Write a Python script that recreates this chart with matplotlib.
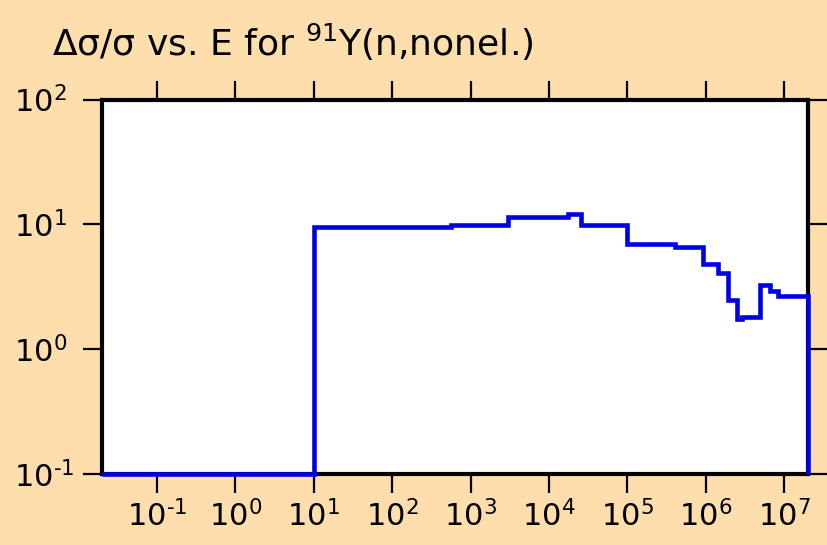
import matplotlib
matplotlib.use('Agg')
import matplotlib.pyplot as plt
from matplotlib.ticker import FixedLocator, NullLocator, FuncFormatter
import numpy as np

# 字体设置
plt.rcParams['font.family'] = ['DejaVu Sans']
plt.rcParams['mathtext.fontset'] = 'dejavusans'
plt.rcParams['axes.unicode_minus'] = False

# 能群边界 (eV) 与相对不确定度
energy_edges = [0.02, 10, 100, 560, 3000, 17400, 25700, 1e5, 4.06e5, 9.2e5,
                1.42e6, 1.9e6, 2.5e6, 2.9e6, 4.9e6, 6.6e6, 8.4e6, 2e7]
rel_unc = [0.1, 9.6, 9.5, 9.9, 11.5, 12.2, 9.9, 6.93, 6.56, 4.82,
           4.1, 2.48, 1.74, 1.82, 3.27, 2.93, 2.67]
x_ticks = [1e-1, 1e0, 1e1, 1e2, 1e3, 1e4, 1e5, 1e6, 1e7]
y_ticks = [1e-1, 1e0, 1e1, 1e2]

bg = '#FFDEAD'


def pow10(v, pos):
    e = int(round(np.log10(v)))
    return r'$10^{\text{%d}}$' % e


fig = plt.figure(figsize=(8.27, 5.45), dpi=100, facecolor=bg)
ax = fig.add_axes([0.1233, 0.1303, 0.977 - 0.1233, 0.8174 - 0.1303])
ax.set_facecolor('white')

ax.stairs(rel_unc, energy_edges, baseline=0.1, color='#0000E6',
          linewidth=3.3, zorder=3, clip_on=False)

ax.set_xscale('log')
ax.set_yscale('log')
ax.set_xlim(0.02, 2e7)
ax.set_ylim(0.1, 100)

ax.xaxis.set_major_locator(FixedLocator(x_ticks))
ax.yaxis.set_major_locator(FixedLocator(y_ticks))
ax.xaxis.set_minor_locator(NullLocator())
ax.yaxis.set_minor_locator(NullLocator())
ax.xaxis.set_major_formatter(FuncFormatter(pow10))
ax.yaxis.set_major_formatter(FuncFormatter(pow10))

ax.tick_params(axis='both', which='major', direction='out', length=14,
               width=1.6, color='black', labelsize=22,
               top=True, right=True, labeltop=False, labelright=False)
ax.tick_params(axis='x', pad=5)
ax.tick_params(axis='y', pad=49)
for lab in ax.get_yticklabels():
    lab.set_horizontalalignment('left')

for spine in ax.spines.values():
    spine.set_linewidth(3)
    spine.set_color('black')

# 标题
fig.text(52 / 827, 1 - 56 / 545, r'Δσ/σ vs. E for $^{\text{91}}$Y(n,nonel.)',
         fontsize=26, ha='left', va='baseline', color='black')

fig.savefig('out.png', dpi=100, facecolor=bg)
